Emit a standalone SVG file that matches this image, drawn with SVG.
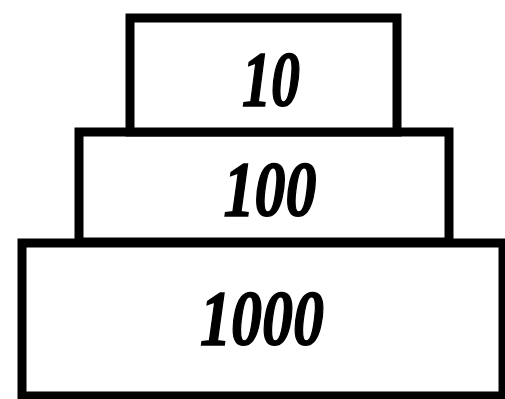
<svg xmlns="http://www.w3.org/2000/svg" width="505" height="399" viewBox="0 0 505 399">
<style>
.box{fill:#fff;stroke:#000;stroke-width:9}
.lbl{font-family:"Liberation Serif","Times New Roman",serif;font-weight:bold;font-style:italic;font-size:78px;fill:#000;stroke:#000;stroke-width:1.5;text-anchor:middle}
</style>
<rect width="505" height="399" fill="#fff"/>
<g id="tier-1000">
<rect class="box" x="22" y="243" width="481" height="153"/>
<text class="lbl" x="262" y="344" textLength="124" lengthAdjust="spacingAndGlyphs">1000</text>
</g>
<g id="tier-100">
<rect class="box" x="79" y="132" width="370" height="110"/>
<text class="lbl" x="270" y="215" textLength="93" lengthAdjust="spacingAndGlyphs">100</text>
</g>
<g id="tier-10">
<rect class="box" x="130" y="18" width="267" height="114"/>
<text class="lbl" x="271" y="105" textLength="58" lengthAdjust="spacingAndGlyphs">10</text>
</g>
<g id="connectors"/>
</svg>
